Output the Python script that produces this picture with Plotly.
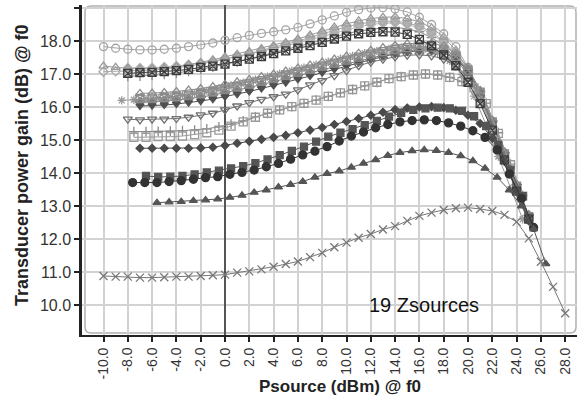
import plotly.graph_objects as go

# ---------------- data ----------------
X_TICKS = [-10, -8, -6, -4, -2, 0, 2, 4, 6, 8, 10, 12, 14, 16, 18, 20, 22, 24, 26, 28]
X_TICK_TEXT = ["-10.0", "-8.0", "-6.0", "-4.0", "-2.0", "0.0", "2.0", "4.0", "6.0", "8.0",
               "10.0", "12.0", "14.0", "16.0", "18.0", "20.0", "22.0", "24.0", "26.0", "28.0"]
Y_TICKS = [10, 11, 12, 13, 14, 15, 16, 17, 18, 19]
Y_TICK_TEXT = ["10.0", "11.0", "12.0", "13.0", "14.0", "15.0", "16.0", "17.0", "18.0", "19.0"]
PSOURCE_STEP = 1.0  # dB step of the source power sweep

# first Psource value of each sweep (dBm)
START_CIRCLE_OPEN = -10.0
START_TRI_OPEN_A = -10.0
START_DIAMOND_OPEN = -10.0
START_DIAMOND_LIGHT = -8.0
START_CROSS_GRAY = -8.0
START_SQX_DARK = -8.0
START_TRI_OPEN_B = -7.0
START_SQX_LIGHT = -7.0
START_ASTERISK = -8.5
START_TRI_DOWN = -7.0
START_DIAMOND_MID = -7.0
START_TRI_DOWN_OPEN = -8.0
START_SQUARE_OPEN = -7.5
START_PLUS = -7.5
START_DIAMOND_DARK = -7.0
START_SQUARE_DARK = -6.5
START_CIRCLE_DARK = -7.6
START_TRI_DARK = -5.6
START_X = -10.0

GAIN_CIRCLE_OPEN = [17.83, 17.78, 17.75, 17.73, 17.73, 17.75, 17.78, 17.83, 17.88, 17.94, 18.02, 18.1,
                    18.17, 18.23, 18.28, 18.34, 18.41, 18.52, 18.64, 18.76, 18.87, 18.95, 19.0, 19.01,
                    18.97, 18.88, 18.72, 18.5, 18.22, 17.83, 17.2, 16.4, 15.5, 14.55, 13.6]
GAIN_TRI_OPEN_A = [17.24, 17.2, 17.17, 17.16, 17.16, 17.18, 17.22, 17.28, 17.35, 17.43, 17.52, 17.6,
                   17.68, 17.77, 17.86, 17.95, 18.06, 18.18, 18.3, 18.42, 18.52, 18.61, 18.68, 18.72,
                   18.73, 18.68, 18.58, 18.4, 18.12, 17.72, 17.12, 16.35, 15.45, 14.5, 13.55, 12.7]
GAIN_DIAMOND_OPEN = [17.07, 17.08, 17.09, 17.1, 17.12, 17.15, 17.19, 17.24, 17.3, 17.37, 17.45, 17.53,
                     17.62, 17.71, 17.8, 17.9, 18.0, 18.11, 18.22, 18.33, 18.43, 18.51, 18.57, 18.6,
                     18.6, 18.55, 18.45, 18.27, 18.0, 17.62, 17.05, 16.3, 15.4, 14.45, 13.5]
GAIN_DIAMOND_LIGHT = [17.18, 17.18, 17.19, 17.21, 17.24, 17.28, 17.33, 17.39, 17.46, 17.53, 17.6, 17.68,
                      17.76, 17.85, 17.94, 18.04, 18.14, 18.24, 18.34, 18.43, 18.5, 18.54, 18.55, 18.5,
                      18.4, 18.22, 17.95, 17.58, 17.02, 16.28, 15.38, 14.42, 13.45]
GAIN_CROSS_GRAY = [16.93, 16.94, 16.96, 16.99, 17.03, 17.08, 17.14, 17.21, 17.29, 17.37, 17.46, 17.55,
                   17.64, 17.73, 17.83, 17.93, 18.03, 18.13, 18.22, 18.3, 18.36, 18.4, 18.41, 18.37,
                   18.28, 18.1, 17.85, 17.48, 16.95, 16.22, 15.32, 14.38, 13.42]
GAIN_SQX_DARK = [17.02, 17.04, 17.05, 17.07, 17.1, 17.14, 17.2, 17.24, 17.3, 17.38, 17.45, 17.53,
                 17.62, 17.7, 17.78, 17.86, 17.96, 18.06, 18.15, 18.22, 18.26, 18.28, 18.27, 18.2,
                 18.05, 17.85, 17.58, 17.25, 16.75, 16.1, 15.3, 14.4, 13.45, 12.6]
GAIN_TRI_OPEN_B = [16.41, 16.42, 16.44, 16.47, 16.51, 16.56, 16.62, 16.69, 16.76, 16.84, 16.92, 17.0,
                   17.09, 17.18, 17.27, 17.36, 17.45, 17.54, 17.63, 17.72, 17.8, 17.87, 17.92, 17.95,
                   17.94, 17.85, 17.62, 17.2, 16.5, 15.6, 14.6, 13.6, 12.7]
GAIN_SQX_LIGHT = [16.26, 16.27, 16.29, 16.32, 16.36, 16.41, 16.47, 16.54, 16.62, 16.7, 16.79, 16.88,
                  16.97, 17.06, 17.15, 17.24, 17.33, 17.42, 17.51, 17.6, 17.68, 17.75, 17.8, 17.83,
                  17.82, 17.74, 17.53, 17.12, 16.45, 15.55, 14.58, 13.6, 12.68]
GAIN_ASTERISK = [16.2, 16.22, 16.24, 16.27, 16.31, 16.36, 16.42, 16.49, 16.57, 16.65, 16.74, 16.83,
                 16.92, 17.01, 17.1, 17.19, 17.28, 17.37, 17.46, 17.55, 17.63, 17.7, 17.76, 17.8,
                 17.81, 17.77, 17.64, 17.4, 16.98, 16.33, 15.45, 14.5, 13.52, 12.6]
GAIN_TRI_DOWN = [16.03, 16.04, 16.06, 16.09, 16.13, 16.18, 16.24, 16.31, 16.39, 16.47, 16.56, 16.65,
                 16.74, 16.84, 16.94, 17.04, 17.14, 17.24, 17.34, 17.44, 17.53, 17.61, 17.67, 17.7,
                 17.7, 17.64, 17.46, 17.08, 16.44, 15.55, 14.6, 13.62, 12.7]
GAIN_DIAMOND_MID = [16.15, 16.16, 16.18, 16.21, 16.25, 16.3, 16.36, 16.43, 16.51, 16.59, 16.68, 16.77,
                    16.86, 16.95, 17.04, 17.13, 17.22, 17.31, 17.4, 17.49, 17.57, 17.64, 17.7, 17.73,
                    17.73, 17.67, 17.5, 17.12, 16.48, 15.58, 14.62, 13.64, 12.72]
GAIN_TRI_DOWN_OPEN = [15.63, 15.61, 15.63, 15.63, 15.65, 15.69, 15.76, 15.81, 15.91, 16.03, 16.13, 16.23,
                      16.31, 16.39, 16.52, 16.67, 16.8, 16.95, 17.1, 17.25, 17.36, 17.45, 17.52, 17.57,
                      17.58, 17.55, 17.45, 17.25, 16.9, 16.3, 15.5, 14.55, 13.6, 12.7]
GAIN_SQUARE_OPEN = [15.08, 15.08, 15.1, 15.1, 15.12, 15.16, 15.22, 15.3, 15.42, 15.55, 15.69, 15.81,
                    15.91, 16.01, 16.11, 16.21, 16.32, 16.43, 16.53, 16.64, 16.75, 16.86, 16.92, 16.97,
                    17.0, 16.97, 16.9, 16.77, 16.58, 16.1, 15.2, 14.25, 13.3]
GAIN_PLUS = [15.25, 15.25, 15.26, 15.27, 15.28, 15.3, 15.34, 15.4, 15.48, 15.58, 15.7, 15.81,
             15.91, 16.01, 16.11, 16.21, 16.32, 16.43, 16.53, 16.64, 16.75, 16.86, 16.92, 16.97,
             17.0, 16.97, 16.9, 16.77, 16.58, 16.12, 15.22, 14.27, 13.32]
GAIN_DIAMOND_DARK = [14.75, 14.75, 14.75, 14.75, 14.75, 14.76, 14.78, 14.83, 14.9, 14.96, 15.02, 15.08,
                     15.14, 15.22, 15.3, 15.38, 15.47, 15.56, 15.65, 15.75, 15.84, 15.92, 15.97, 16.0,
                     16.01, 15.98, 15.9, 15.75, 15.5, 15.05, 14.35, 13.45, 12.55]
GAIN_SQUARE_DARK = [13.91, 13.88, 13.89, 13.91, 13.96, 14.02, 14.07, 14.14, 14.21, 14.3, 14.41, 14.54,
                    14.67, 14.8, 14.95, 15.1, 15.22, 15.33, 15.45, 15.58, 15.71, 15.82, 15.91, 15.96,
                    15.98, 15.96, 15.88, 15.72, 15.42, 14.85, 14.1, 13.3]
GAIN_CIRCLE_DARK = [13.71, 13.71, 13.71, 13.74, 13.77, 13.81, 13.86, 13.89, 13.96, 14.02, 14.09, 14.19,
                    14.29, 14.42, 14.55, 14.66, 14.8, 14.97, 15.12, 15.24, 15.37, 15.47, 15.55, 15.59,
                    15.61, 15.59, 15.52, 15.42, 15.28, 15.08, 14.7, 13.97, 13.23, 12.35]
GAIN_TRI_DARK = [13.10, 13.12, 13.13, 13.16, 13.18, 13.21, 13.26, 13.32, 13.41, 13.48, 13.57, 13.65,
                 13.74, 13.87, 13.98, 14.06, 14.17, 14.29, 14.4, 14.53, 14.62, 14.67, 14.70, 14.68,
                 14.62, 14.52, 14.37, 14.14, 13.87, 13.48, 13.0, 12.3, 11.25]
GAIN_X = [10.88, 10.86, 10.86, 10.83, 10.83, 10.84, 10.86, 10.86, 10.88, 10.9, 10.92, 10.98, 11.02,
          11.08, 11.16, 11.24, 11.32, 11.45, 11.58, 11.75, 11.89, 12.04, 12.15, 12.29, 12.39, 12.55,
          12.7, 12.8, 12.88, 12.93, 12.95, 12.91, 12.85, 12.73, 12.52, 12.02, 11.31, 10.55, 9.75]

ANNOTATION_TEXT = "19 Zsources"
X_TITLE = "Psource (dBm) @ f0"
Y_TITLE = "Transducer power gain (dB) @ f0"

# ---------------- styling ----------------
series = [
    (START_CROSS_GRAY, GAIN_CROSS_GRAY, "cross-thin-open", "#8a8a8a", 7),
    (START_DIAMOND_LIGHT, GAIN_DIAMOND_LIGHT, "diamond", "#b4b4b4", 7),
    (START_DIAMOND_OPEN, GAIN_DIAMOND_OPEN, "diamond-open", "#a8a8a8", 7),
    (START_TRI_OPEN_A, GAIN_TRI_OPEN_A, "triangle-up-open", "#9a9a9a", 8),
    (START_CIRCLE_OPEN, GAIN_CIRCLE_OPEN, "circle-open", "#a4a4a4", 8),
    (START_DIAMOND_MID, GAIN_DIAMOND_MID, "diamond", "#7a7a7a", 7),
    (START_TRI_DOWN, GAIN_TRI_DOWN, "triangle-down", "#505050", 7),
    (START_ASTERISK, GAIN_ASTERISK, "asterisk-open", "#9a9a9a", 7),
    (START_SQX_LIGHT, GAIN_SQX_LIGHT, "square-x-open", "#8c8c8c", 8),
    (START_TRI_OPEN_B, GAIN_TRI_OPEN_B, "triangle-up-open", "#8c8c8c", 8),
    (START_TRI_DOWN_OPEN, GAIN_TRI_DOWN_OPEN, "triangle-down-open", "#707070", 8),
    (START_PLUS, GAIN_PLUS, "cross-thin-open", "#8a8a8a", 7),
    (START_SQUARE_OPEN, GAIN_SQUARE_OPEN, "square-open", "#9a9a9a", 8),
    (START_SQX_DARK, GAIN_SQX_DARK, "square-x-open", "#3c3c3c", 8),
    (START_DIAMOND_DARK, GAIN_DIAMOND_DARK, "diamond", "#4a4a4a", 6),
    (START_SQUARE_DARK, GAIN_SQUARE_DARK, "square", "#555555", 7),
    (START_CIRCLE_DARK, GAIN_CIRCLE_DARK, "circle", "#333333", 8),
    (START_TRI_DARK, GAIN_TRI_DARK, "triangle-up", "#555555", 7),
    (START_X, GAIN_X, "x-thin-open", "#777777", 8),
]

fig = go.Figure()
for start, gains, symbol, color, size in series:
    xs = [start + PSOURCE_STEP * i for i in range(len(gains))]
    fig.add_trace(go.Scatter(
        x=xs, y=gains, mode="lines+markers",
        line=dict(color=color, width=1),
        marker=dict(symbol=symbol, color=color, size=size,
                    line=dict(color=color, width=1.3)),
        showlegend=False, hoverinfo="skip"))

FONT = "Liberation Sans, Arial, sans-serif"
W, H = 587, 405
L, R, T, B = 82, 10, 5, 70
PX_PER_DB_X = 12.15
X0_PIX = 225.0
PX_PER_DB_Y = 33.0
Y10_PIX = 305.0
x_range = [(L - X0_PIX) / PX_PER_DB_X, (W - R - X0_PIX) / PX_PER_DB_X]
y_range = [10 - (H - B - Y10_PIX) / PX_PER_DB_Y, 10 + (Y10_PIX - T) / PX_PER_DB_Y]

pw, ph = W - L - R, H - T - B
def px(xp):
    return (xp - L) / pw
def py(yp):
    return (H - B - yp) / ph

# rounded inner frame of the plot area
x0, x1, y0, y1 = px(85), px(576), py(333), py(6)
rx, ry = 6 / pw, 6 / ph
frame = (f"M {x0+rx},{y1} L {x1-rx},{y1} Q {x1},{y1} {x1},{y1-ry} L {x1},{y0+ry} "
         f"Q {x1},{y0} {x1-rx},{y0} L {x0+rx},{y0} Q {x0},{y0} {x0},{y0+ry} "
         f"L {x0},{y1-ry} Q {x0},{y1} {x0+rx},{y1} Z")

fig.update_layout(
    width=W, height=H,
    margin=dict(l=L, r=R, t=T, b=B),
    paper_bgcolor="white", plot_bgcolor="white",
    font=dict(family=FONT, color="#333333"),
    shapes=[
        dict(type="path", path=frame, xref="paper", yref="paper",
             line=dict(color="#b0b0b0", width=1.5), layer="below"),
        dict(type="rect", xref="x", yref="y",
             x0=(355 - X0_PIX) / PX_PER_DB_X, x1=(510 - X0_PIX) / PX_PER_DB_X,
             y0=10 - (320 - Y10_PIX) / PX_PER_DB_Y, y1=10 + (Y10_PIX - 290) / PX_PER_DB_Y,
             fillcolor="white", line=dict(width=0), layer="below"),
    ],
    annotations=[
        dict(text=ANNOTATION_TEXT, xref="x", yref="y",
             x=(424 - X0_PIX) / PX_PER_DB_X, y=10.0, showarrow=False,
             xanchor="center", yanchor="middle",
             font=dict(size=20, color="#111111", family=FONT)),
        dict(text=f"<b>{X_TITLE}</b>", xref="paper", yref="paper",
             x=px(340), y=py(386), showarrow=False, xanchor="center", yanchor="middle",
             font=dict(size=17, color="#222222", family=FONT)),
        dict(text=f"<b>{Y_TITLE}</b>", xref="paper", yref="paper",
             x=px(22), y=py(165), showarrow=False, textangle=-90,
             xanchor="center", yanchor="middle",
             font=dict(size=18, color="#222222", family=FONT)),
    ],
    xaxis=dict(
        range=x_range, tickvals=X_TICKS, ticktext=X_TICK_TEXT, tickangle=-90,
        showgrid=True, gridcolor="#d2d2d2", gridwidth=1.5,
        zeroline=True, zerolinecolor="#555555", zerolinewidth=1.5,
        showline=True, linecolor="#222222", linewidth=2,
        ticks="outside", ticklen=5, tickcolor="#222222", tickwidth=1.5,
        tickfont=dict(size=14, color="#333333", family=FONT),
    ),
    yaxis=dict(
        range=y_range, tickvals=Y_TICKS, ticktext=Y_TICK_TEXT,
        showgrid=True, gridcolor="#d2d2d2", gridwidth=1.5, zeroline=False,
        showline=True, linecolor="#222222", linewidth=2.5,
        ticks="outside", ticklen=5, tickcolor="#222222", tickwidth=1.5,
        tickfont=dict(size=16, color="#333333", family=FONT),
    ),
)

fig.write_html("out.html")
